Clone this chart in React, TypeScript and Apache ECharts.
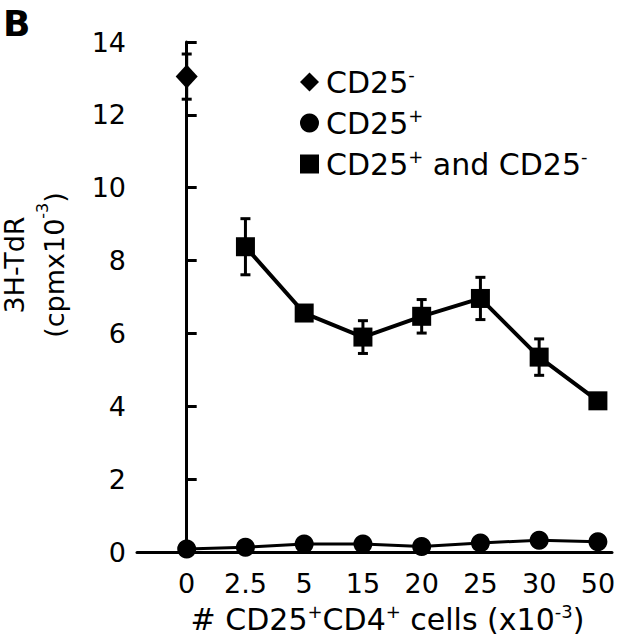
import React, { useEffect, useRef } from "react";
import * as echarts from "echarts";

const categories = ["0", "2.5", "5", "15", "20", "25", "30", "50"];
const cd25NegMean: (number | null)[] = [13.05, null, null, null, null, null, null, null];
const cd25NegErr: (number | null)[] = [0.62, null, null, null, null, null, null, null];
const cd25PosMean: (number | null)[] = [0.08, 0.13, 0.22, 0.22, 0.15, 0.25, 0.32, 0.28];
const mixMean: (number | null)[] = [null, 8.38, 6.56, 5.9, 6.47, 6.96, 5.35, 4.15];
const mixErr: (number | null)[] = [null, 0.77, 0.2, 0.45, 0.46, 0.58, 0.5, 0];
const yTicks = { min: 0, max: 14, interval: 2 };

const FONT = "DejaVu Sans, Liberation Sans, Arial, sans-serif";
const mkRich = (size: number, lh: number) => ({
  n: { fontSize: size, fontFamily: FONT, color: "#000", lineHeight: lh },
  s: {
    fontSize: Math.round(size * 0.6),
    fontFamily: FONT,
    color: "#000",
    verticalAlign: "top" as const,
    lineHeight: lh,
  },
});

const legendText: Record<string, string> = {
  "CD25-": "{n|CD25}{s|-}",
  "CD25+": "{n|CD25}{s|+}",
  "CD25+ and CD25-": "{n|CD25}{s|+}{n| and CD25}{s|-}",
};

const pts = (arr: (number | null)[]) =>
  arr.map((v, i) => (v == null ? null : [i, v])).filter((d) => d != null) as number[][];
const errPts = (m: (number | null)[], e: (number | null)[]) =>
  m.map((v, i) => (v == null || e[i] == null ? null : [i, v, e[i]])).filter((d) => d != null) as number[][];

export default function App() {
  const ref = useRef<HTMLDivElement>(null);
  useEffect(() => {
    if (!ref.current) return;
    const chart = echarts.init(ref.current, undefined, { renderer: "svg" });
    const errRender = (_params: any, api: any) => {
      const x = api.value(0);
      const m = api.value(1);
      const e = api.value(2);
      if (!e) return { type: "group", children: [] };
      const top = api.coord([x, m + e]);
      const bot = api.coord([x, m - e]);
      const hw = 5;
      const st = { stroke: "#000", lineWidth: 3 };
      return {
        type: "group",
        children: [
          { type: "line", shape: { x1: top[0], y1: top[1], x2: bot[0], y2: bot[1] }, style: st },
          { type: "line", shape: { x1: top[0] - hw, y1: top[1], x2: top[0] + hw, y2: top[1] }, style: st },
          { type: "line", shape: { x1: bot[0] - hw, y1: bot[1], x2: bot[0] + hw, y2: bot[1] }, style: st },
        ],
      };
    };
    chart.setOption({
      animation: false,
      backgroundColor: "#fff",
      textStyle: { fontFamily: FONT, color: "#000" },
      graphic: [
        {
          type: "text",
          left: 3,
          top: 5,
          style: { text: "B", font: `bold 36px ${FONT}`, fill: "#000" },
        },
      ],
      legend: {
        orient: "vertical",
        left: 295,
        top: 60,
        itemWidth: 19,
        itemHeight: 19,
        itemGap: 9,
        data: [
          { name: "CD25-", icon: "diamond" },
          { name: "CD25+", icon: "circle" },
          { name: "CD25+ and CD25-", icon: "rect" },
        ],
        formatter: (name: string) => legendText[name],
        textStyle: { rich: mkRich(30, 34), padding: [0, 0, 0, 2] },
      },
      grid: { left: 137, right: 8, top: 42, bottom: 88, outerBoundsMode: "none" },
      xAxis: {
        type: "value",
        min: -0.846,
        max: 7.24,
        splitLine: { show: false },
        axisLine: { show: true, onZero: false, lineStyle: { color: "#000", width: 3 } },
        axisTick: { show: false },
        axisLabel: {
          customValues: categories.map((_, i) => i),
          formatter: (v: number) => categories[Math.round(v)],
          fontSize: 27,
          fontFamily: FONT,
          color: "#000",
          margin: 18,
        },
        name: "{n|# CD25}{s|+}{n|CD4}{s|+}{n| cells (x10}{s|-3}{n|)}",
        nameLocation: "middle",
        nameGap: 50,
        nameTextStyle: { rich: mkRich(30, 34), padding: [0, 0, 0, 26] },
      },
      yAxis: {
        type: "value",
        min: yTicks.min,
        max: yTicks.max,
        interval: yTicks.interval,
        splitLine: { show: false },
        axisLine: { show: true, lineStyle: { color: "#000", width: 3 } },
        axisTick: { show: true, inside: true, length: 10, lineStyle: { color: "#000", width: 3 } },
        axisLabel: { fontSize: 27, fontFamily: FONT, color: "#000", margin: 11 },
        name: "{n|3H-TdR}\n{n|(cpmx10}{s|-3}{n|)}",
        nameLocation: "middle",
        nameRotate: 90,
        nameGap: 63,
        nameTextStyle: { rich: mkRich(27, 40), padding: [0, 0, 0, 64] },
      },
      series: [
        {
          name: "CD25-",
          type: "line",
          data: pts(cd25NegMean),
          symbol: "diamond",
          symbolSize: [22, 24],
          itemStyle: { color: "#000" },
          lineStyle: { color: "#000", width: 3 },
          z: 3,
        },
        {
          name: "CD25+",
          type: "line",
          data: pts(cd25PosMean),
          symbol: "circle",
          symbolSize: 19,
          clip: false,
          itemStyle: { color: "#000" },
          lineStyle: { color: "#000", width: 3 },
          z: 3,
        },
        {
          name: "CD25+ and CD25-",
          type: "line",
          data: pts(mixMean),
          symbol: "rect",
          symbolSize: 19,
          itemStyle: { color: "#000" },
          lineStyle: { color: "#000", width: 4 },
          z: 3,
        },
        {
          name: "err-neg",
          type: "custom",
          renderItem: errRender,
          data: errPts(cd25NegMean, cd25NegErr),
          z: 2,
        },
        {
          name: "err-mix",
          type: "custom",
          renderItem: errRender,
          data: errPts(mixMean, mixErr),
          z: 2,
        },
      ],
    });
    return () => chart.dispose();
  }, []);
  return (
    <div
      ref={ref}
      style={{ position: "fixed", left: 0, top: 0, width: 620, height: 640, background: "#fff" }}
    />
  );
}
